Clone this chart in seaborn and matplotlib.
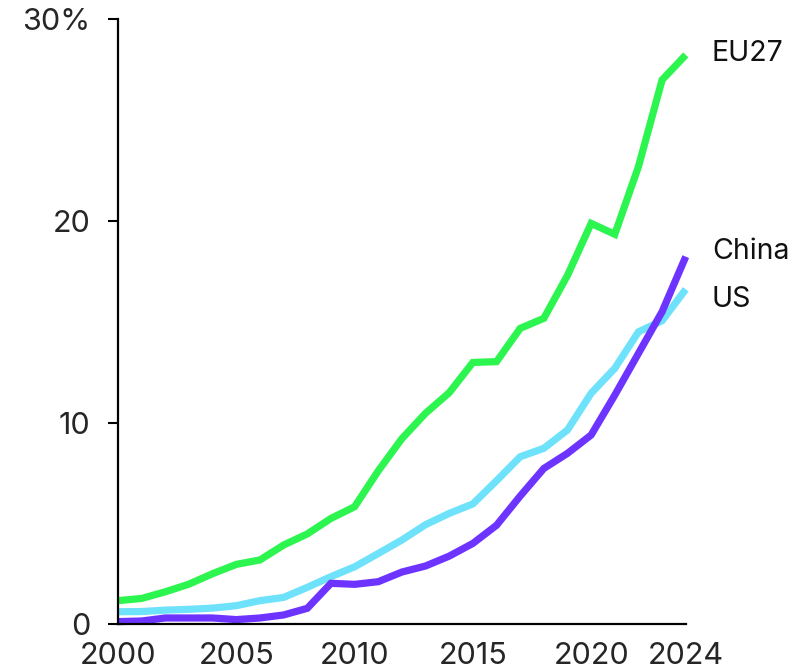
import numpy as np
import pandas as pd
import matplotlib
matplotlib.use("Agg")
import matplotlib.pyplot as plt
import seaborn as sns

years = list(range(2000, 2025))

eu27 = [1.16, 1.27, 1.6, 1.98, 2.5, 2.96, 3.18, 3.92, 4.47, 5.24, 5.82, 7.6,
        9.2, 10.46, 11.48, 12.98, 13.02, 14.67, 15.17, 17.3, 19.88, 19.34,
        22.7, 27.0, 28.24]
china = [0.12, 0.15, 0.3, 0.3, 0.3, 0.22, 0.3, 0.45, 0.78, 2.02, 1.97, 2.1,
         2.58, 2.88, 3.37, 4.0, 4.9, 6.35, 7.72, 8.47, 9.38, 11.36, 13.43,
         15.5, 18.23]
us = [0.61, 0.62, 0.69, 0.73, 0.79, 0.91, 1.16, 1.32, 1.82, 2.35, 2.84, 3.5,
      4.17, 4.93, 5.49, 5.96, 7.11, 8.3, 8.72, 9.63, 11.45, 12.69, 14.5,
      15.05, 16.61]

series_names = ["EU27", "US", "China"]
colors = {"EU27": "#2cf550", "US": "#6ee2fa", "China": "#6e34ff"}
label_y = {"EU27": 28.3, "China": 18.5, "US": 16.1}

yticks = [0, 10, 20, 30]
ytick_labels = ["0", "10", "20", "30%"]
xticks = [2000, 2005, 2010, 2015, 2020, 2024]

df = pd.DataFrame({
    "year": years * 3,
    "value": eu27 + us + china,
    "region": ["EU27"] * len(years) + ["US"] * len(years) + ["China"] * len(years),
})

sns.set_theme(style="ticks")
plt.rcParams["font.family"] = ["Inter", "DejaVu Sans"]

fig = plt.figure(figsize=(8.03, 6.71), dpi=100)
ax = fig.add_axes([0.147, 0.070, 0.707, 0.901])

sns.lineplot(data=df, x="year", y="value", hue="region", hue_order=series_names,
             palette=colors, linewidth=5.2, ax=ax, legend=False)
for line in ax.lines:
    line.set_solid_capstyle("butt")
    line.set_solid_joinstyle("miter")
    line.set_clip_on(False)

ax.set_xlim(2000, 2024)
ax.set_ylim(0, 30)
ax.set_xlabel("")
ax.set_ylabel("")

ax.set_yticks(yticks)
ax.set_yticklabels(ytick_labels)
ax.set_xticks(xticks)
ax.set_xticklabels([str(x) for x in xticks])

ax.tick_params(axis="y", length=7, width=1.5, pad=13, labelsize=22, color="black")
ax.tick_params(axis="x", length=0, pad=13, labelsize=22)

for side in ["top", "right"]:
    ax.spines[side].set_visible(False)
for side in ["left", "bottom"]:
    ax.spines[side].set_linewidth(1.6)
    ax.spines[side].set_color("black")

for name in series_names:
    ax.text(2025.1, label_y[name], name, fontsize=20.5, color="#111111",
            va="center", ha="left", clip_on=False)

fig.savefig("out.png", dpi=100, facecolor="white")
